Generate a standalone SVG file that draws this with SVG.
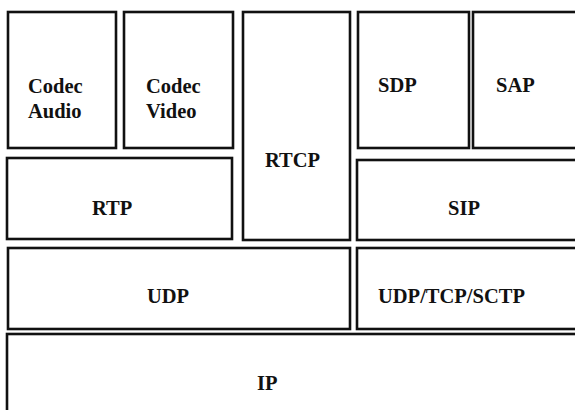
<svg xmlns="http://www.w3.org/2000/svg" width="575" height="410" viewBox="0 0 575 410">
  <style>
    .box { fill: #ffffff; stroke: #111111; stroke-width: 2.6; }
    .lbl { font-family: 'Liberation Serif', 'DejaVu Serif', 'Times New Roman', serif; font-weight: bold; font-size: 20.5px; fill: #111111; }
  </style>
  <rect x="0" y="0" width="575" height="410" fill="#ffffff"/>

  <!-- top row: codecs and session description -->
  <g id="codec-audio">
    <rect class="box" x="8" y="12" width="108" height="136"/>
    <text class="lbl" x="28" y="93">Codec</text>
    <text class="lbl" x="28" y="118">Audio</text>
  </g>
  <g id="codec-video">
    <rect class="box" x="124" y="12" width="109" height="136"/>
    <text class="lbl" x="146" y="93">Codec</text>
    <text class="lbl" x="146" y="118">Video</text>
  </g>
  <g id="rtcp">
    <rect class="box" x="243" y="12" width="107" height="228"/>
    <text class="lbl" x="265" y="167">RTCP</text>
  </g>
  <g id="sdp">
    <rect class="box" x="358" y="12" width="111" height="136"/>
    <text class="lbl" x="378" y="92">SDP</text>
  </g>
  <g id="sap">
    <rect class="box" x="473" y="12" width="120" height="136"/>
    <text class="lbl" x="496" y="92">SAP</text>
  </g>

  <!-- middle row -->
  <g id="rtp">
    <rect class="box" x="7" y="158" width="225" height="81"/>
    <text class="lbl" x="92" y="215">RTP</text>
  </g>
  <g id="sip">
    <rect class="box" x="357" y="160" width="236" height="80"/>
    <text class="lbl" x="448" y="215">SIP</text>
  </g>

  <!-- transport row -->
  <g id="udp">
    <rect class="box" x="8" y="248" width="342" height="81"/>
    <text class="lbl" x="147" y="303">UDP</text>
  </g>
  <g id="udp-tcp-sctp">
    <rect class="box" x="357" y="248" width="236" height="81"/>
    <text class="lbl" x="378" y="303">UDP/TCP/SCTP</text>
  </g>

  <!-- network row -->
  <g id="ip">
    <rect class="box" x="7" y="334" width="586" height="92"/>
    <text class="lbl" x="257" y="390">IP</text>
  </g>

  <g id="connectors"/>
</svg>
